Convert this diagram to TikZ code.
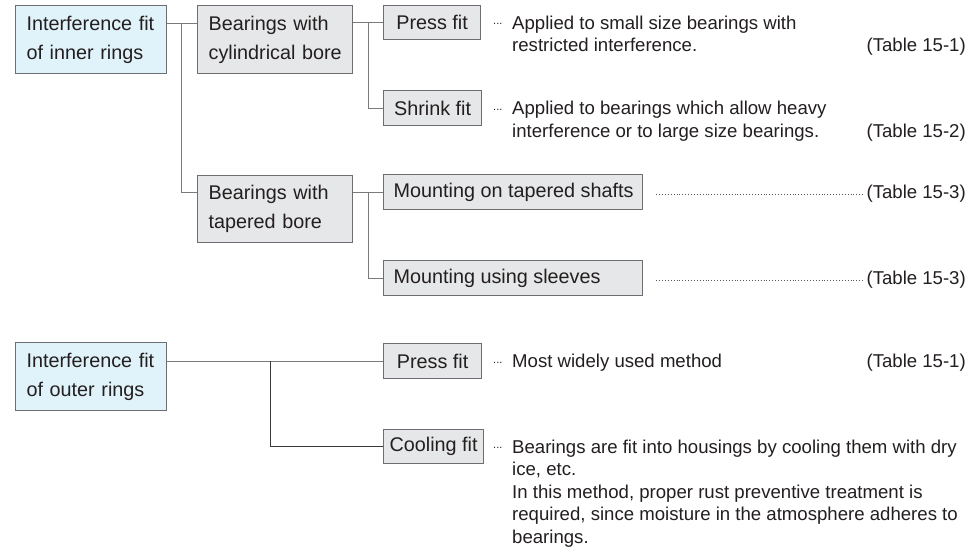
\documentclass[tikz,border=0pt]{standalone}
\usepackage{fontspec}
\setmainfont{Liberation Sans}
\usetikzlibrary{calc}
\definecolor{txt}{HTML}{231F20}
\definecolor{bluefill}{HTML}{E1F3FA}
\definecolor{grayfill}{HTML}{E6E7E8}
\definecolor{edge}{HTML}{6D6E71}
\definecolor{wire}{HTML}{7A7A7A}
\definecolor{wiredark}{HTML}{3A3A3A}
\newcommand{\boxfont}{\fontsize{19.8}{29}\selectfont}
\newcommand{\descfont}{\fontsize{18.6}{22.5}\selectfont}
\newcommand{\lead}{\makebox[19pt][l]{\raisebox{4.2pt}{\fontsize{11}{11}\selectfont...}}}
\newcommand{\nl}{\hfil\break}
\newcommand{\desctext}[1]{\parbox[t]{470pt}{\descfont\hangindent=19pt\hangafter=1\lead#1}}
\begin{document}
\begin{tikzpicture}[x=1pt,y=-1pt,
  bx/.style={draw=edge, line width=1.2pt, fill=grayfill, inner xsep=11pt, inner ysep=0pt,
    align=left, anchor=north west, font=\boxfont, text=txt},
  bluebx/.style={bx, fill=bluefill},
  sbx/.style={bx, align=center, inner xsep=0pt},
  lbx/.style={bx, inner xsep=10pt},
  wirestyle/.style={draw=wire, line width=1pt},
  darkwire/.style={draw=wiredark, line width=1pt},
  descnode/.style={inner sep=0pt, anchor=base west, text=txt},
  tbl/.style={inner sep=0pt, anchor=base east, font=\descfont, text=txt},
  leader/.style={draw=txt!75, line width=0.9pt, dash pattern=on 0.9pt off 2pt, shorten >=4pt}
]
\useasboundingbox[fill=white] (0,0) rectangle (969,547);

% boxes
\node[bluebx, text width=129pt, minimum height=68pt] (inner) at (15,5) {\mbox{Interference fit}\\\mbox{of inner rings}};
\node[bx, text width=133pt, minimum height=68pt] (cyl) at (197,5) {\mbox{Bearings with}\\\mbox{cylindrical bore}};
\node[bx, text width=133pt, minimum height=67pt] (tap) at (197,175) {\mbox{Bearings with}\\\mbox{tapered bore}};
\node[sbx, minimum width=97pt, minimum height=34pt] (press) at (383,5) {Press fit};
\node[sbx, minimum width=98pt, minimum height=35pt] (shrink) at (383,90) {Shrink fit};
\node[lbx, minimum height=35pt] (mtap) at (383,174) {\makebox[239pt][l]{Mounting on tapered shafts}};
\node[lbx, minimum height=35pt] (msleeve) at (383,260) {\makebox[239pt][l]{Mounting using sleeves}};
\node[bluebx, text width=129pt, minimum height=68pt] (outer) at (15,342) {\mbox{Interference fit}\\\mbox{of outer rings}};
\node[sbx, minimum width=98pt, minimum height=35pt] (opress) at (383,343) {Press fit};
\node[sbx, minimum width=100pt, minimum height=34pt] (cool) at (383,429) {Cooling fit};

% connectors
\coordinate (j1) at (181,23);
\coordinate (j1b) at (181,192);
\draw[wirestyle] (inner.east |- j1) -- (cyl.west |- j1);
\draw[wirestyle] (j1) -- (j1b) -- (tap.west |- j1b);

\coordinate (j2) at ($(press.west)+(-15,0)$);
\draw[wirestyle] (cyl.east |- press.west) -- (press.west);
\draw[wirestyle] (j2) |- (shrink.west);

\coordinate (j3) at ($(mtap.west)+(-15,0)$);
\draw[wirestyle] (tap.east |- mtap.west) -- (mtap.west);
\draw[wirestyle] (j3) |- (msleeve.west);

\coordinate (j4) at ($(opress.west)+(-113,0)$);
\draw[wirestyle] (outer.east |- opress.west) -- (opress.west);
\draw[darkwire] (j4) |- (cool.west);

% descriptions
\node[descnode] (d1) at ($(press.west)+(110,6.5)$) {\desctext{Applied to small size bearings with\nl restricted interference.}};
\node[tbl] (t1) at ($(press.west)+(583,29)$) {(Table 15-1)};

\node[descnode] (d2) at ($(shrink.west)+(110,6.5)$) {\desctext{Applied to bearings which allow heavy\nl interference or to large size bearings.}};
\node[tbl] (t2) at ($(shrink.west)+(583,29)$) {(Table 15-2)};

\node[tbl] (t3) at ($(mtap.west)+(583,6.5)$) {(Table 15-3)};
\coordinate (l3) at ($(mtap.east)+(13,2)$);
\draw[leader] (l3) -- (l3 -| t3.west);

\node[tbl] (t4) at ($(msleeve.west)+(583,6.5)$) {(Table 15-3)};
\coordinate (l4) at ($(msleeve.east)+(13,2)$);
\draw[leader] (l4) -- (l4 -| t4.west);

\node[descnode] (d5) at ($(opress.west)+(110,6.5)$) {\desctext{Most widely used method}};
\node[tbl] (t5) at ($(opress.west)+(583,6.5)$) {(Table 15-1)};

\node[descnode] (d6) at ($(cool.west)+(110,6.5)$) {\desctext{Bearings are fit into housings by cooling them with dry\nl ice, etc.\nl In this method, proper rust preventive treatment is\nl required, since moisture in the atmosphere adheres to\nl bearings.}};
\end{tikzpicture}
\end{document}
